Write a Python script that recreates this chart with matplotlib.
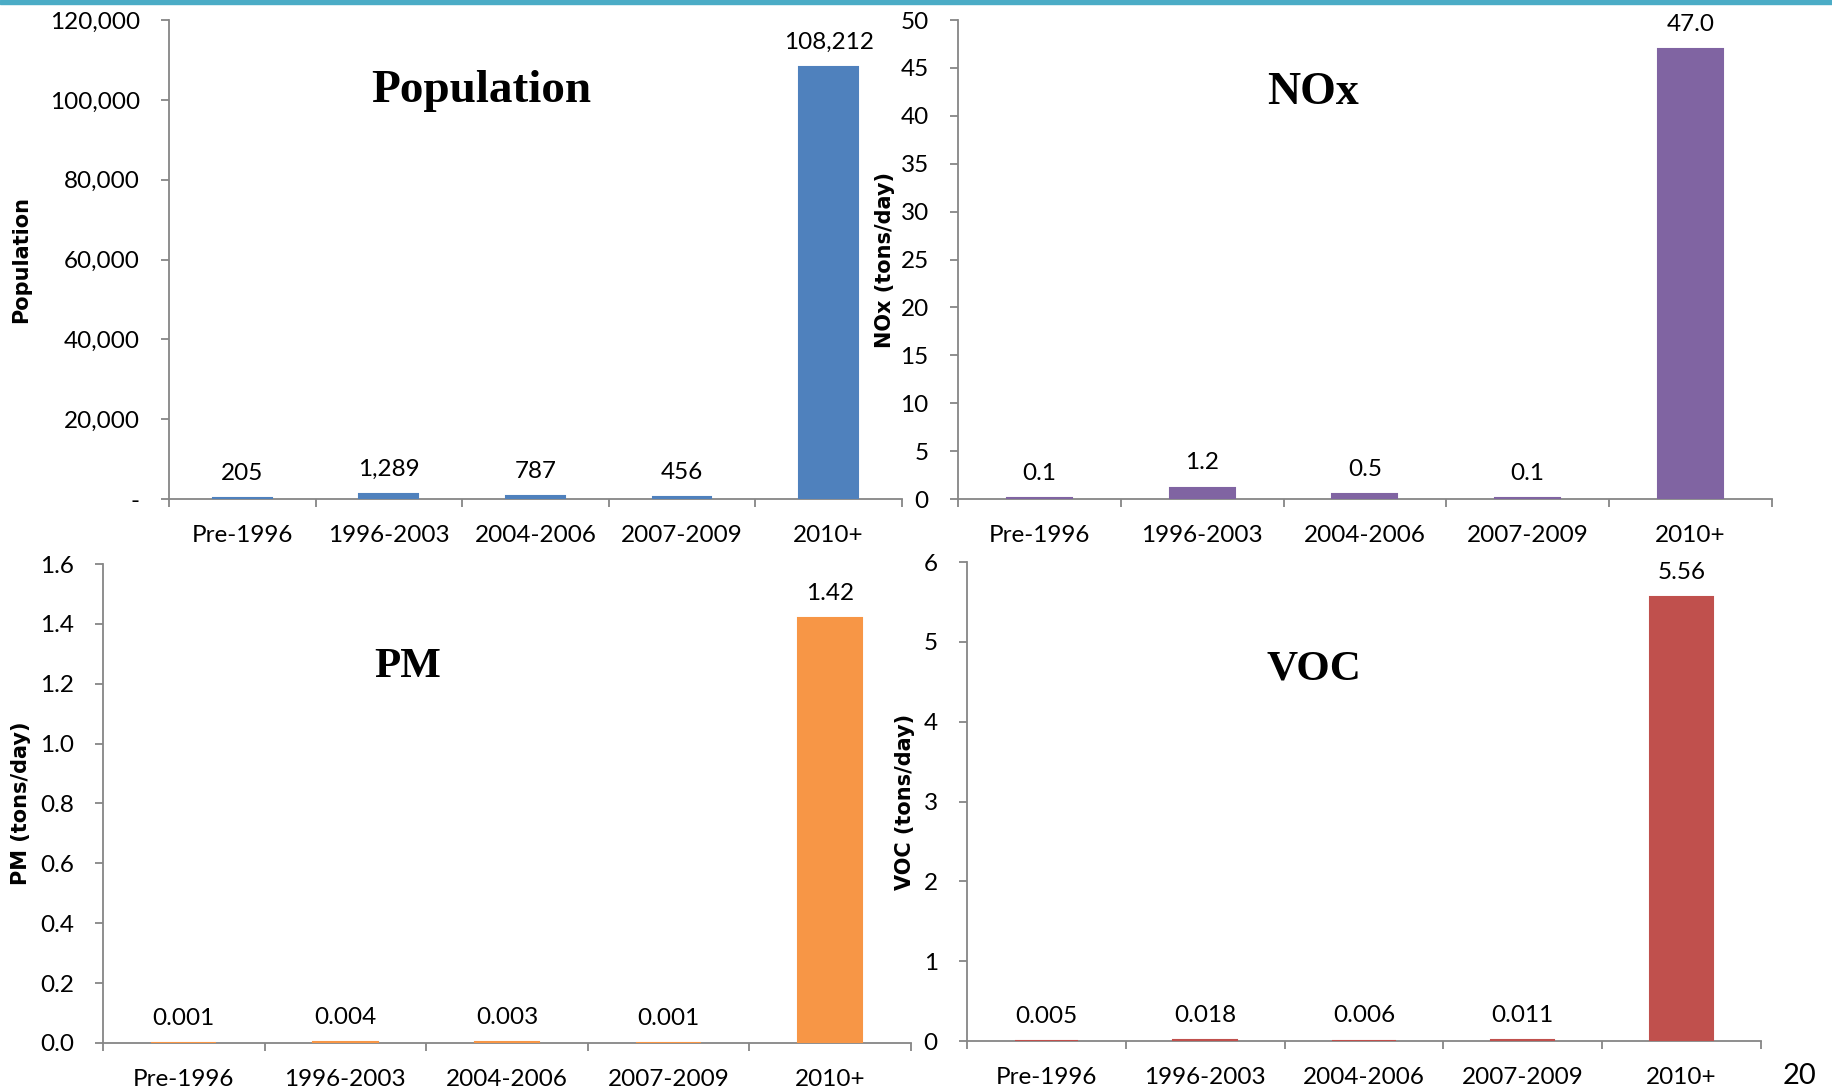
import matplotlib.pyplot as plt
from matplotlib.patches import Rectangle
from matplotlib.ticker import FuncFormatter

categories = ['Pre-1996', '1996-2003', '2004-2006', '2007-2009', '2010+']

population = [205, 1289, 787, 456, 108212]
population_labels = ['205', '1,289', '787', '456', '108,212']

nox = [0.1, 1.2, 0.5, 0.1, 47.0]
nox_labels = ['0.1', '1.2', '0.5', '0.1', '47.0']

pm = [0.001, 0.004, 0.003, 0.001, 1.42]
pm_labels = ['0.001', '0.004', '0.003', '0.001', '1.42']

voc = [0.005, 0.018, 0.006, 0.011, 5.56]
voc_labels = ['0.005', '0.018', '0.006', '0.011', '5.56']

plt.rcParams['font.family'] = ['Lato', 'DejaVu Sans']

axis_grey = '#868686'
tick_size = 17.5

fig = plt.figure(figsize=(18.32, 10.92), dpi=100)

# teal rule along the top of the slide
fig.patches.append(Rectangle((0, 1 - 4 / 1092), 1, 4 / 1092, transform=fig.transFigure,
                             color='#4BACC6', zorder=0))

panels = [
    # rect, values, labels, color, ymax, yticks, fmt, ylabel, ylabel_x, title, title_xy, title_size
    ([0.0922, 0.5430, 0.4001, 0.4386], population, population_labels, '#4F81BD',
     120000, range(0, 120001, 20000),
     lambda v, p: '-' if v == 0 else f'{v:,.0f}',
     'Population', -0.202, 'Population', (0.426, 0.851), 34),
    ([0.5229, 0.5430, 0.4443, 0.4386], nox, nox_labels, '#8064A2',
     50, range(0, 51, 5),
     lambda v, p: f'{v:.0f}',
     'NOx (tons/day)', -0.090, 'NOx', (0.436, 0.847), 33),
    ([0.0562, 0.0449, 0.4410, 0.4386], pm, pm_labels, '#F79646',
     1.6, [i * 0.2 for i in range(9)],
     lambda v, p: f'{v:.1f}',
     'PM (tons/day)', -0.1015, 'PM', (0.377, 0.786), 31),
    ([0.5278, 0.0467, 0.4334, 0.4386], voc, voc_labels, '#C0504D',
     6, range(0, 7),
     lambda v, p: f'{v:.0f}',
     'VOC (tons/day)', -0.078, 'VOC', (0.437, 0.776), 31),
]

for rect, vals, labels, color, ymax, yticks, fmt, ylabel, ylabel_x, title, title_xy, tsize in panels:
    ax = fig.add_axes(rect)
    x = range(len(categories))
    # thin edge keeps the tiny bars visible, like Excel does
    bars = ax.bar(x, vals, width=0.4, color=color, edgecolor=color, linewidth=1.5, zorder=3)
    for b, lab in zip(bars, labels):
        ax.annotate(lab, (b.get_x() + b.get_width() / 2, b.get_height()),
                    xytext=(0, 13), textcoords='offset points',
                    ha='center', va='baseline', fontsize=tick_size)

    ax.set_xlim(-0.5, len(categories) - 0.5)
    ax.set_ylim(0, ymax)
    ax.set_yticks(list(yticks))
    ax.yaxis.set_major_formatter(FuncFormatter(fmt))

    ax.set_xticks(list(x))
    ax.set_xticklabels(categories)
    ax.set_xticks([i - 0.5 for i in range(len(categories) + 1)], minor=True)
    ax.tick_params(axis='x', which='major', length=0, pad=19, labelsize=tick_size)
    ax.tick_params(axis='x', which='minor', length=6, width=1.3, color=axis_grey)
    ax.tick_params(axis='y', length=6, width=1.3, color=axis_grey, pad=15,
                   labelsize=tick_size)

    for s in ['top', 'right']:
        ax.spines[s].set_visible(False)
    for s in ['left', 'bottom']:
        ax.spines[s].set_color(axis_grey)
        ax.spines[s].set_linewidth(1.3)

    ax.text(ylabel_x, 0.5, ylabel, transform=ax.transAxes, rotation=90,
            ha='center', va='center', fontsize=15, fontweight='bold',
            family='DejaVu Sans')
    ax.text(title_xy[0], title_xy[1], title, transform=ax.transAxes,
            ha='center', va='center', fontsize=tsize, fontweight='bold',
            family='Liberation Serif')

fig.text(1799 / 1832, 1 - 1076 / 1092, '20', ha='center', va='center', fontsize=21)

fig.savefig('out.png', dpi=100)
